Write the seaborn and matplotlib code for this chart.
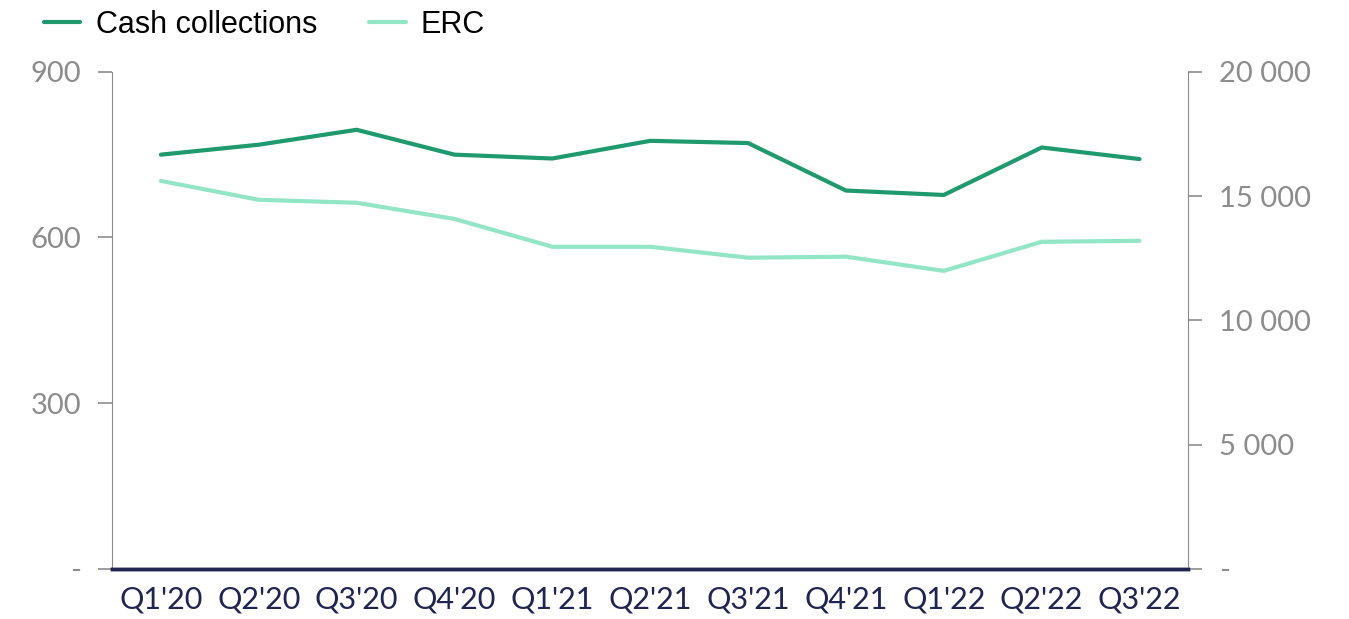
import matplotlib
matplotlib.use("Agg")
import matplotlib.pyplot as plt
import seaborn as sns
import pandas as pd

quarters = ["Q1'20", "Q2'20", "Q3'20", "Q4'20", "Q1'21", "Q2'21",
            "Q3'21", "Q4'21", "Q1'22", "Q2'22", "Q3'22"]
cash_collections = [750, 768, 795, 750, 743, 775, 771, 685, 677, 763, 742]
erc = [15610, 14850, 14730, 14080, 12960, 12960, 12520, 12560, 11990, 13160, 13200]

cash_color = "#1f9a6e"
erc_color = "#92e6c5"
gray = "#8c8c8c"
navy = "#1f2451"

sns.set_style("white")
plt.rcParams["font.family"] = ["Lato", "DejaVu Sans"]

df = pd.DataFrame({"Quarter": quarters, "Cash": cash_collections, "ERC": erc})
df["x"] = range(len(quarters))

fig, ax = plt.subplots(figsize=(13.49, 6.19), dpi=100)
fig.subplots_adjust(left=0.083, right=0.881, top=0.884, bottom=0.081)
ax2 = ax.twinx()

sns.lineplot(data=df, x="x", y="Cash", ax=ax, color=cash_color, linewidth=3,
             label="Cash collections", legend=False)
sns.lineplot(data=df, x="x", y="ERC", ax=ax2, color=erc_color, linewidth=3,
             label="ERC", legend=False)

ax.set_xlim(-0.5, len(quarters) - 0.5)
ax.set_ylim(0, 900)
ax2.set_ylim(0, 20000)

ax.set_yticks([0, 300, 600, 900])
ax.set_yticklabels(["-", "300", "600", "900"])
ax2.set_yticks([0, 5000, 10000, 15000, 20000])
ax2.set_yticklabels(["-", "5 000", "10 000", "15 000", "20 000"])
ax.set_xticks(df["x"])
ax.set_xticklabels(quarters)

ax.set_xlabel("")
ax.set_ylabel("")
ax2.set_xlabel("")
ax2.set_ylabel("")

for a in (ax, ax2):
    a.spines["top"].set_visible(False)
    a.spines["left"].set_color(gray)
    a.spines["right"].set_color(gray)
    a.spines["bottom"].set_color(navy)
    a.spines["bottom"].set_linewidth(2.5)
    a.tick_params(axis="y", colors=gray, labelsize=21, length=10, width=1.2, pad=12)
ax.tick_params(axis="x", colors=navy, labelsize=22, length=0, pad=12)
ax2.spines["left"].set_visible(False)
ax.spines["right"].set_visible(False)

h1, l1 = ax.get_legend_handles_labels()
h2, l2 = ax2.get_legend_handles_labels()
fig.legend(h1 + h2, l1 + l2, loc="upper left", bbox_to_anchor=(0.012, 1.028),
           ncol=2, frameon=False, handlelength=1.2, handletextpad=0.5,
           columnspacing=1.7, labelcolor="black",
           prop={"family": ["Liberation Sans", "DejaVu Sans"], "size": 22})

fig.savefig("out.png", dpi=100)
